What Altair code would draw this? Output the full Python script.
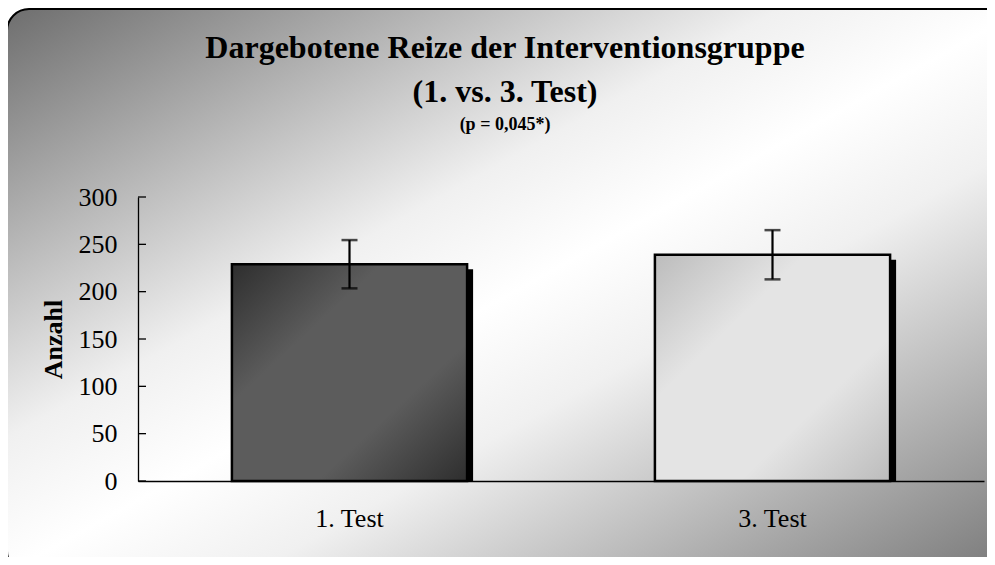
import altair as alt
import pandas as pd

# ---- data ----
categories = ["1. Test", "3. Test"]
means = [229, 239]
errors = [25.5, 26]
y_ticks = [0, 50, 100, 150, 200, 250, 300]
title_lines = ["Dargebotene Reize der Interventionsgruppe", "(1. vs. 3. Test)"]
subtitle = "(p = 0,045*)"
y_title = "Anzahl"

df = pd.DataFrame({"cat": categories, "mean": means, "err": errors})
df["lo"] = df["mean"] - df["err"]
df["hi"] = df["mean"] + df["err"]
ticks_df = pd.DataFrame({"v": y_ticks})
one = pd.DataFrame({"k": [0]})

W, H = 846, 284
PL, PT, PR, PB = 130, 189, 3, 76
FONT = "Liberation Serif"

xscale = alt.Scale(domain=categories, paddingInner=0.444, paddingOuter=0.222)
yscale = alt.Scale(domain=[0, 300], nice=False, zero=True)

x_axis = alt.Axis(title=None, labelAngle=0, labelFont=FONT, labelFontSize=26,
                  labelColor="black", labelPadding=24, ticks=False, tickSize=0,
                  domainColor="black", domainWidth=1.3, grid=False, zindex=2)
y_axis = alt.Axis(values=y_ticks, title=y_title, titleFont=FONT, titleFontSize=26,
                  titleFontWeight="bold", titleColor="black", titlePadding=12,
                  labelFont=FONT, labelFontSize=26, labelColor="black",
                  labelPadding=21, ticks=False, tickSize=0, domainColor="black",
                  domainWidth=1.3, grid=False, zindex=2)

def X():
    return alt.X("cat:N", scale=xscale, sort=categories, axis=x_axis)

def Y(field):
    return alt.Y(field, scale=yscale, axis=y_axis)

def grad(stops):
    return alt.LinearGradient(
        gradient="linear",
        stops=[alt.GradientStop(color=c, offset=o) for o, c in stops],
        x1=0, y1=0, x2=1, y2=1)

# background panel
bg = alt.Chart(one).mark_rect(
    fill=grad([(0, "#6e6e6e"), (0.38, "#f0f0f0"), (0.5, "#ffffff"),
               (0.62, "#f0f0f0"), (1, "#767676")]),
    stroke="black", strokeWidth=2, cornerRadius=22, clip=False
).encode(x=alt.value(-PL - 1), x2=alt.value(W + 40),
         y=alt.value(-PT + 1), y2=alt.value(H + 92))

ytick_rules = alt.Chart(ticks_df).mark_rule(color="black", strokeWidth=1.3).encode(
    y=Y("v:Q"), x=alt.value(0), x2=alt.value(8))

shadow = alt.Chart(df).mark_bar(color="black", xOffset=6, yOffset=5, clip=True).encode(
    x=X(), y=Y("mean:Q"))

bar1 = alt.Chart(df).transform_filter(alt.datum.cat == categories[0]).mark_bar(
    fill=grad([(0, "#2e2e2e"), (0.32, "#5c5c5c"), (0.68, "#5c5c5c"), (1, "#2e2e2e")]),
    stroke="black", strokeWidth=2.5
).encode(x=X(), y=Y("mean:Q"))

bar2 = alt.Chart(df).transform_filter(alt.datum.cat == categories[1]).mark_bar(
    fill=grad([(0, "#bcbcbc"), (0.32, "#e4e4e4"), (0.68, "#e4e4e4"), (1, "#bcbcbc")]),
    stroke="black", strokeWidth=2.5
).encode(x=X(), y=Y("mean:Q"))

err = alt.Chart(df).mark_rule(color="black", strokeWidth=2.2).encode(
    x=X(), y=Y("lo:Q"), y2="hi:Q")
cap_lo = alt.Chart(df).mark_tick(color="black", thickness=2.5, size=16).encode(
    x=X(), y=Y("lo:Q"))
cap_hi = alt.Chart(df).mark_tick(color="black", thickness=2.5, size=16).encode(
    x=X(), y=Y("hi:Q"))

def title_text(txt, size, base_y):
    return alt.Chart(one).mark_text(text=txt, font=FONT, fontSize=size,
                                    fontWeight="bold", color="black", align="center",
                                    baseline="alphabetic").encode(
        x=alt.value(367), y=alt.value(base_y - PT - 8))

t1 = title_text(title_lines[0], 32, 58)
t2 = title_text(title_lines[1], 32, 102)
t3 = title_text(subtitle, 18, 130)

chart = alt.layer(bg, ytick_rules, shadow, bar1, bar2, err, cap_lo, cap_hi, t1, t2, t3).properties(
    width=W, height=H,
    padding={"left": PL, "top": PT, "right": PR, "bottom": PB},
    autosize=alt.AutoSizeParams(type="none"),
    background="white",
).configure_view(stroke=None)

chart.save("out.html", embed_options={"renderer": "svg", "actions": False})
